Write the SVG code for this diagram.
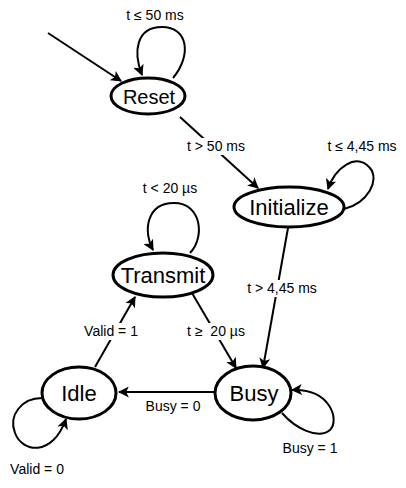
<svg xmlns="http://www.w3.org/2000/svg" width="406" height="488" viewBox="0 0 406 488">
<style>
.n{fill:#fff;stroke:#000;stroke-width:3}
.nt{font-family:"Liberation Sans",Arial,sans-serif;font-size:22px;fill:#000;text-anchor:middle}
.e{fill:none;stroke:#000;stroke-width:2;marker-end:url(#ah)}
.l{font-family:"Liberation Sans",Arial,sans-serif;font-size:14px;fill:#000;text-anchor:middle;white-space:pre}
.lb{fill:#fff}
</style>
<defs>
<marker id="ah" viewBox="0 0 10 10" refX="9" refY="5" markerWidth="5.5" markerHeight="5.5" orient="auto" markerUnits="strokeWidth">
<path d="M0,0 L10,5 L0,10 L2.5,5 z" fill="#000"/>
</marker>
</defs>
<rect width="406" height="488" fill="#fff"/>
<g id="connectors">
<path class="e" d="M48,33 L121,81"/>
<path class="e" d="M173,78 C192,55 188,27 162,27 C136,27 133,52 142,75"/>
<path class="e" d="M180,117 L258,188"/>
<path class="e" d="M344,209 C368,203 380,180 370,168 C356,152 335,168 328,189"/>
<path class="e" d="M288,228 L263,368"/>
<path class="e" d="M190,253 C205,238 202,203 174,203 C146,203 143,232 153,250"/>
<path class="e" d="M192,293 L236,368"/>
<path class="e" d="M95,367 L135,297"/>
<path class="e" d="M215,392 L119,392"/>
<path class="e" d="M282,413 C295,428 318,440 330,430 C340,420 330,388 292,390"/>
<path class="e" d="M42,398 C22,398 8,415 15,433 C22,452 52,458 66,419"/>
</g>
<g id="labels">
<text class="l" x="155" y="20">t ≤ 50 ms</text>
<rect class="lb" x="186" y="138" width="60" height="17"/>
<text class="l" x="216" y="151">t &gt; 50 ms</text>
<text class="l" x="362" y="151">t ≤ 4,45 ms</text>
<text class="l" x="170" y="193">t &lt; 20 µs</text>
<rect class="lb" x="246" y="280" width="72" height="17"/>
<text class="l" x="282" y="293">t &gt; 4,45 ms</text>
<rect class="lb" x="80" y="323" width="63" height="17"/>
<text class="l" x="111" y="336">Valid = 1</text>
<rect class="lb" x="186" y="323" width="62" height="17"/>
<text class="l" x="216" y="336" xml:space="preserve">t ≥  20 µs</text>
<text class="l" x="173" y="411">Busy = 0</text>
<text class="l" x="310" y="453">Busy = 1</text>
<text class="l" x="37" y="474">Valid = 0</text>
</g>
<g id="Reset"><ellipse class="n" cx="148" cy="96" rx="37" ry="18"/><text class="nt" x="149" y="104" style="font-size:20px">Reset</text></g>
<g id="Initialize"><ellipse class="n" cx="289" cy="207" rx="55" ry="20"/><text class="nt" x="289" y="215">Initialize</text></g>
<g id="Transmit"><ellipse class="n" cx="163" cy="275" rx="50" ry="22"/><text class="nt" x="163" y="283">Transmit</text></g>
<g id="Idle"><ellipse class="n" cx="79" cy="393" rx="37" ry="26"/><text class="nt" x="79" y="401">Idle</text></g>
<g id="Busy"><ellipse class="n" cx="253" cy="393" rx="38" ry="27"/><text class="nt" x="254" y="401">Busy</text></g>
</svg>
